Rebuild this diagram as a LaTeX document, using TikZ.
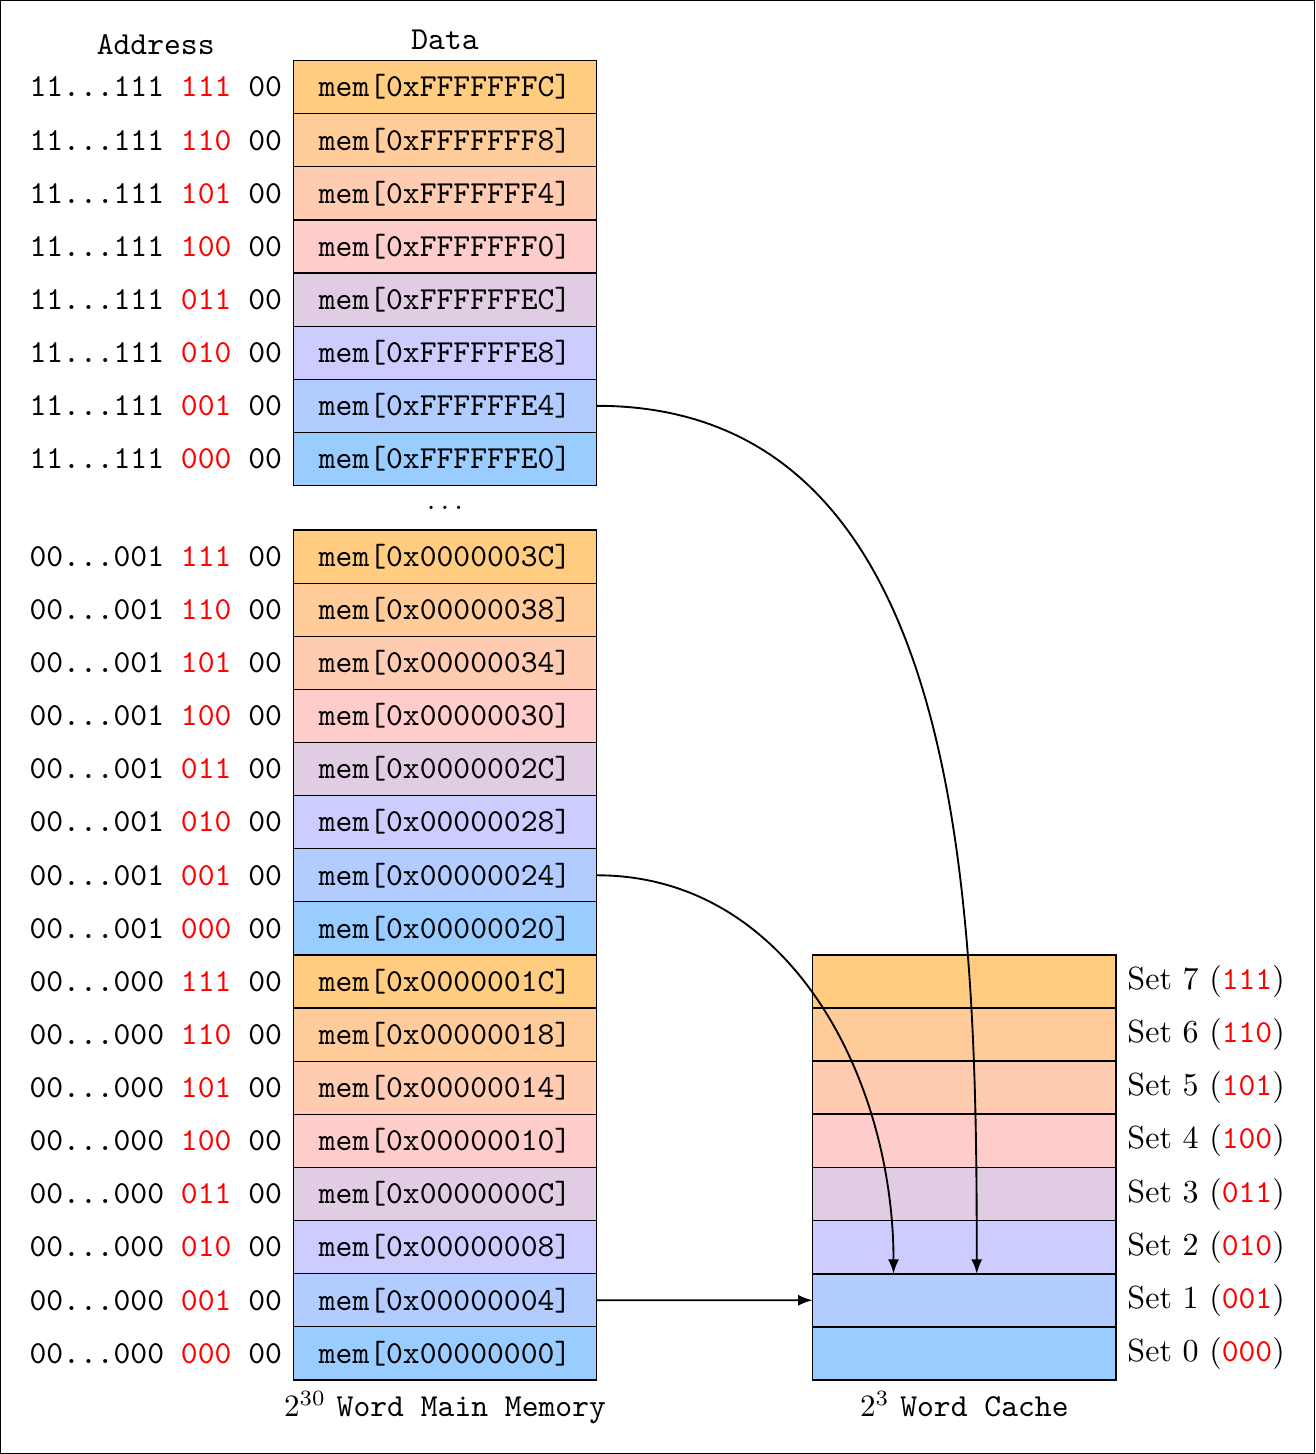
\documentclass[tikz,border=0pt]{standalone}
\usepackage{amsmath}
\usepackage{pgf,tikz}
\usetikzlibrary{positioning}
\definecolor{set7}{rgb}{1,0.8,0.5}
\definecolor{set6}{rgb}{1,0.8,0.6}
\definecolor{set5}{rgb}{1,0.8,0.7}
\definecolor{set4}{rgb}{1,0.8,0.8}
\definecolor{set3}{rgb}{0.88,0.8,0.89}
\definecolor{set2}{rgb}{0.8,0.8,1}
\definecolor{set1}{rgb}{0.7,0.8,1}
\definecolor{set0}{rgb}{0.6,0.8,1}
\tikzstyle{memcell} = [draw, thin, rectangle, outer sep=0pt, minimum width=3.43cm, minimum height=0.6cm, font=\ttfamily]
\tikzstyle{cachecell} = [draw, semithick, rectangle, outer sep=0pt, minimum width=3.43cm, minimum height=0.6cm]
\tikzstyle{addrlabel} = [left, font=\ttfamily]
\tikzstyle{setlabel} = [right]
\tikzstyle{fetch} = [semithick, -latex]

\begin{document}
\fontsize{10.3pt}{12.4pt}\selectfont
\begin{tikzpicture}
		\draw[thin] (0,0) rectangle (14.84,-16.41);
		% upper part of main memory
		\foreach \hex/\bits/\col [count=\j from 0] in {FFFFFFFC/111/set7, FFFFFFF8/110/set6, FFFFFFF4/101/set5, FFFFFFF0/100/set4, FFFFFFEC/011/set3, FFFFFFE8/010/set2, FFFFFFE4/001/set1, FFFFFFE0/000/set0}{
			\node[memcell, fill=\col] (u\j) at (5.02,{-0.977-0.6*\j}) {mem[0x\hex]};
			\node[addrlabel] (ua\j) at (u\j.west) {11...111 \textcolor{red}{\bits} 00};
		}
		\node[above, font=\ttfamily] (datatitle) at (u0.north) {Data};
		\node[above, font=\ttfamily] (addrtitle) at (ua0.north) {Address};
		\node (dots) at ([yshift=-0.25cm]u7.south) {$\ldots$};
		% lower part of main memory
		\foreach \hex/\pre/\bits/\col [count=\j from 0] in {0000003C/001/111/set7, 00000038/001/110/set6, 00000034/001/101/set5, 00000030/001/100/set4, 0000002C/001/011/set3, 00000028/001/010/set2, 00000024/001/001/set1, 00000020/001/000/set0, 0000001C/000/111/set7, 00000018/000/110/set6, 00000014/000/101/set5, 00000010/000/100/set4, 0000000C/000/011/set3, 00000008/000/010/set2, 00000004/000/001/set1, 00000000/000/000/set0}{
			\node[memcell, fill=\col] (l\j) at (5.02,{-6.28-0.6*\j}) {mem[0x\hex]};
			\node[addrlabel] (la\j) at (l\j.west) {00...\pre{} \textcolor{red}{\bits} 00};
		}
		\node[below] (memtitle) at (l15.south) {$2^{30}$ \texttt{Word Main Memory}};
		% cache
		\foreach \n/\bits/\col [count=\j from 0] in {7/111/set7, 6/110/set6, 5/101/set5, 4/100/set4, 3/011/set3, 2/010/set2, 1/001/set1, 0/000/set0}{
			\node[cachecell, fill=\col] (c\n) at (10.886,{-11.08-0.6*\j}) {};
			\node[setlabel] (s\n) at (c\n.east) {Set \n{} (\textcolor{red}{\texttt{\bits}})};
		}
		\node[below] (cachetitle) at (c0.south) {$2^{3}$ \texttt{Word Cache}};
		% mapping
		\coordinate (hitA) at ([xshift=0.14cm]c1.north);
		\coordinate (hitB) at ([xshift=-0.8cm]c1.north);
		\draw[fetch] (u6.east) to[out=0,in=90] (hitA);
		\draw[fetch] (l6.east) to[out=0,in=90] (hitB);
		\draw[fetch] (l14.east) -- (c1.west);
	\end{tikzpicture}
\end{document}
